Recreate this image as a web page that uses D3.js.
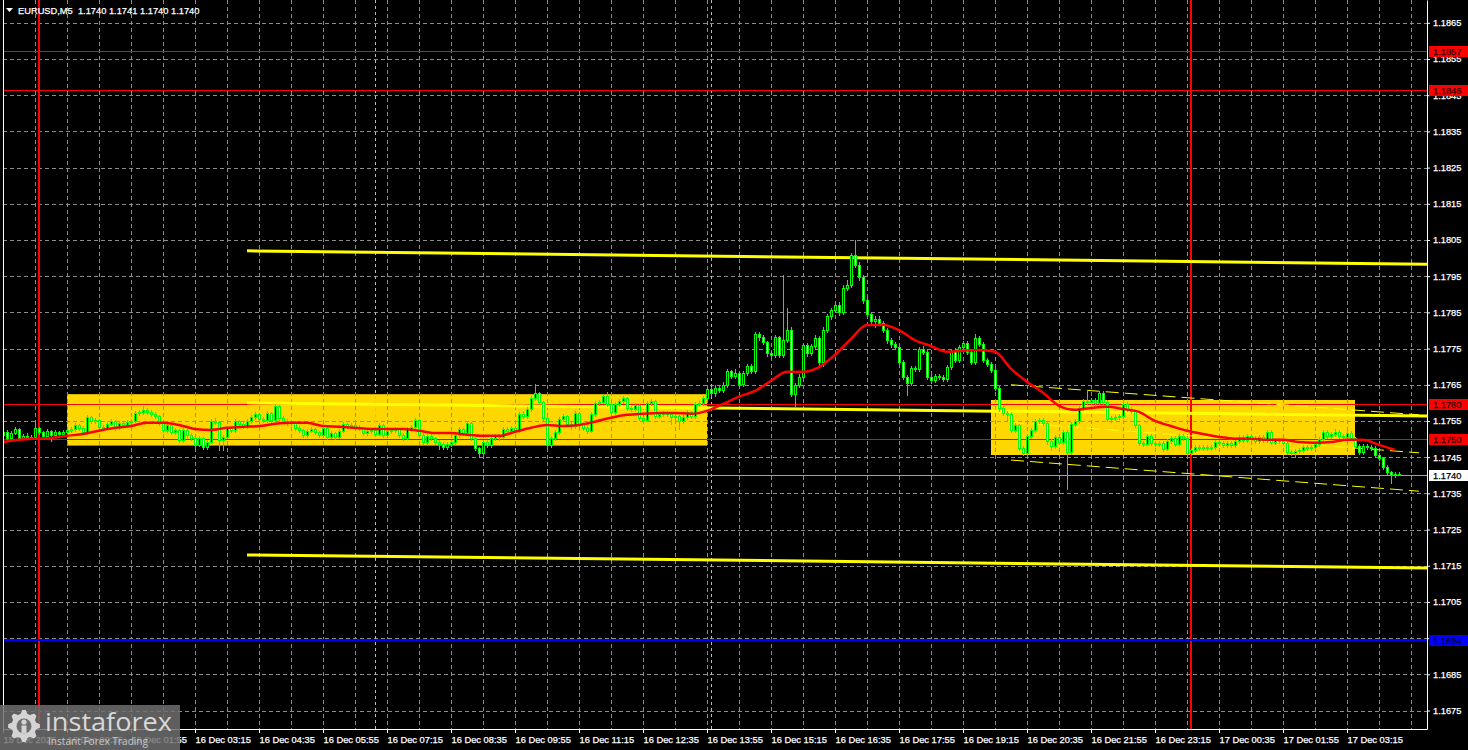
<!DOCTYPE html>
<html><head><meta charset="utf-8">
<script src="https://cdn.jsdelivr.net/npm/d3@7"></script>
<style>html,body{margin:0;padding:0;background:#000;overflow:hidden}text{font-family:"Liberation Sans",Arial,sans-serif}</style>
</head><body><svg id="chart" width="1468" height="750"></svg>
<script>
// ---------------- DATA ----------------
const symbolTitle = "EURUSD,M5";
const firstBarTime = "2025-12-15 23:15";
const barMinutes = 5;
const firstOpen = 1.17512;
const closes = [
1.17520,1.17503,1.17517,1.17528,1.17503,1.17509,1.17506,1.17506,1.17531,1.17520,
1.17509,1.17523,1.17512,1.17520,1.17514,1.17520,1.17525,1.17528,1.17539,1.17531,
1.17520,1.17561,1.17550,1.17553,1.17534,1.17531,1.17542,1.17550,1.17531,1.17545,
1.17539,1.17548,1.17550,1.17572,1.17575,1.17581,1.17575,1.17570,1.17564,1.17545,
1.17525,1.17539,1.17520,1.17525,1.17498,1.17525,1.17512,1.17503,1.17484,1.17503,
1.17478,1.17492,1.17550,1.17548,1.17498,1.17506,1.17531,1.17525,1.17550,1.17542,
1.17536,1.17550,1.17561,1.17570,1.17556,1.17553,1.17572,1.17553,1.17592,1.17559,
1.17550,1.17545,1.17548,1.17531,1.17525,1.17512,1.17523,1.17528,1.17520,1.17512,
1.17531,1.17506,1.17517,1.17506,1.17523,1.17542,1.17536,1.17539,1.17534,1.17531,
1.17517,1.17523,1.17525,1.17514,1.17539,1.17512,1.17523,1.17525,1.17528,1.17512,
1.17503,1.17528,1.17534,1.17553,1.17512,1.17492,1.17509,1.17503,1.17492,1.17487,
1.17478,1.17487,1.17492,1.17512,1.17528,1.17517,1.17545,1.17503,1.17476,1.17462,
1.17492,1.17484,1.17503,1.17509,1.17506,1.17528,1.17523,1.17531,1.17525,1.17570,
1.17564,1.17583,1.17614,1.17628,1.17603,1.17559,1.17484,1.17503,1.17520,1.17556,
1.17564,1.17542,1.17536,1.17572,1.17542,1.17531,1.17523,1.17570,1.17600,1.17603,
1.17619,1.17597,1.17575,1.17597,1.17606,1.17614,1.17586,1.17583,1.17594,1.17559,
1.17553,1.17600,1.17606,1.17564,1.17570,1.17572,1.17570,1.17561,1.17564,1.17550,
1.17561,1.17575,1.17564,1.17597,1.17600,1.17614,1.17639,1.17628,1.17641,1.17636,
1.17650,1.17688,1.17675,1.17683,1.17652,1.17683,1.17702,1.17688,1.17791,1.17782,
1.17768,1.17738,1.17733,1.17782,1.17733,1.17774,1.17802,1.17625,1.17650,1.17672,
1.17760,1.17738,1.17757,1.17780,1.17713,1.17802,1.17840,1.17857,1.17871,1.17851,
1.17918,1.17926,1.18009,1.17981,1.17948,1.17884,1.17846,1.17826,1.17832,1.17821,
1.17802,1.17774,1.17763,1.17755,1.17713,1.17672,1.17655,1.17697,1.17694,1.17749,
1.17741,1.17672,1.17664,1.17675,1.17672,1.17666,1.17699,1.17744,1.17719,1.17755,
1.17766,1.17741,1.17713,1.17780,1.17763,1.17719,1.17708,1.17691,1.17641,1.17586,
1.17572,1.17570,1.17525,1.17539,1.17476,1.17462,1.17509,1.17525,1.17550,1.17553,
1.17545,1.17495,1.17481,1.17506,1.17492,1.17520,1.17465,1.17542,1.17550,1.17586,
1.17606,1.17603,1.17608,1.17600,1.17628,1.17603,1.17556,1.17559,1.17561,1.17564,
1.17597,1.17583,1.17578,1.17539,1.17490,1.17487,1.17509,1.17490,1.17487,1.17490,
1.17473,1.17495,1.17503,1.17487,1.17509,1.17503,1.17462,1.17470,1.17478,1.17476,
1.17478,1.17476,1.17478,1.17492,1.17490,1.17484,1.17490,1.17484,1.17495,1.17506,
1.17498,1.17509,1.17503,1.17495,1.17506,1.17498,1.17520,1.17492,1.17498,1.17495,
1.17490,1.17465,1.17462,1.17467,1.17470,1.17478,1.17476,1.17478,1.17487,1.17501,
1.17520,1.17509,1.17514,1.17520,1.17509,1.17506,1.17517,1.17503,1.17481,1.17465,
1.17481,1.17478,1.17476,1.17456,1.17448,1.17423,1.17409,1.17400,1.17403,1.17400
];
const highs = [
1.17526,1.17524,1.17522,1.17534,1.17531,1.17514,1.17517,1.17512,1.17545,1.17534,
1.17523,1.17528,1.17526,1.17525,1.17523,1.17526,1.17531,1.17534,1.17545,1.17542,
1.17536,1.17567,1.17564,1.17559,1.17556,1.17539,1.17548,1.17556,1.17553,1.17550,
1.17550,1.17553,1.17556,1.17578,1.17581,1.17592,1.17586,1.17581,1.17575,1.17567,
1.17548,1.17545,1.17542,1.17531,1.17528,1.17531,1.17528,1.17517,1.17506,1.17509,
1.17506,1.17498,1.17556,1.17559,1.17550,1.17512,1.17536,1.17536,1.17556,1.17553,
1.17548,1.17556,1.17567,1.17575,1.17572,1.17561,1.17578,1.17575,1.17597,1.17595,
1.17564,1.17556,1.17553,1.17550,1.17536,1.17528,1.17528,1.17534,1.17531,1.17523,
1.17536,1.17534,1.17523,1.17520,1.17528,1.17548,1.17545,1.17545,1.17542,1.17539,
1.17534,1.17528,1.17531,1.17528,1.17545,1.17542,1.17528,1.17531,1.17534,1.17531,
1.17517,1.17534,1.17539,1.17559,1.17556,1.17517,1.17514,1.17514,1.17506,1.17498,
1.17492,1.17492,1.17498,1.17517,1.17534,1.17531,1.17550,1.17548,1.17506,1.17478,
1.17498,1.17498,1.17509,1.17514,1.17514,1.17534,1.17534,1.17536,1.17536,1.17575,
1.17578,1.17589,1.17619,1.17652,1.17630,1.17606,1.17564,1.17509,1.17525,1.17561,
1.17570,1.17567,1.17548,1.17578,1.17575,1.17548,1.17536,1.17575,1.17606,1.17608,
1.17625,1.17630,1.17600,1.17603,1.17611,1.17619,1.17617,1.17592,1.17600,1.17597,
1.17564,1.17606,1.17611,1.17608,1.17575,1.17578,1.17578,1.17575,1.17570,1.17567,
1.17567,1.17581,1.17578,1.17603,1.17606,1.17619,1.17645,1.17645,1.17650,1.17647,
1.17658,1.17694,1.17691,1.17694,1.17688,1.17688,1.17708,1.17708,1.17796,1.17796,
1.17788,1.17771,1.17744,1.17788,1.17785,1.17954,1.17862,1.17810,1.17655,1.17680,
1.17766,1.17766,1.17763,1.17788,1.17785,1.17810,1.17846,1.17862,1.17876,1.17879,
1.17926,1.17940,1.18015,1.18050,1.17990,1.17953,1.17890,1.17851,1.17840,1.17840,
1.17826,1.17807,1.17780,1.17768,1.17760,1.17719,1.17677,1.17702,1.17702,1.17755,
1.17757,1.17746,1.17677,1.17680,1.17680,1.17677,1.17705,1.17749,1.17752,1.17760,
1.17771,1.17771,1.17746,1.17791,1.17785,1.17768,1.17724,1.17713,1.17697,1.17647,
1.17592,1.17578,1.17575,1.17545,1.17542,1.17481,1.17514,1.17531,1.17556,1.17559,
1.17559,1.17548,1.17501,1.17512,1.17512,1.17525,1.17525,1.17548,1.17556,1.17592,
1.17611,1.17636,1.17614,1.17614,1.17633,1.17633,1.17608,1.17564,1.17567,1.17570,
1.17603,1.17603,1.17589,1.17581,1.17542,1.17495,1.17514,1.17514,1.17495,1.17495,
1.17495,1.17501,1.17509,1.17509,1.17514,1.17514,1.17506,1.17476,1.17484,1.17484,
1.17484,1.17484,1.17484,1.17498,1.17498,1.17495,1.17495,1.17495,1.17501,1.17512,
1.17512,1.17514,1.17514,1.17509,1.17512,1.17512,1.17525,1.17525,1.17503,1.17503,
1.17501,1.17495,1.17470,1.17473,1.17476,1.17484,1.17484,1.17484,1.17492,1.17506,
1.17525,1.17525,1.17520,1.17528,1.17525,1.17514,1.17523,1.17523,1.17506,1.17487,
1.17487,1.17487,1.17484,1.17481,1.17462,1.17451,1.17428,1.17412,1.17409,1.17410
];
const lows = [
1.17505,1.17498,1.17500,1.17514,1.17497,1.17500,1.17501,1.17500,1.17503,1.17514,
1.17504,1.17506,1.17495,1.17509,1.17509,1.17511,1.17517,1.17520,1.17523,1.17525,
1.17514,1.17517,1.17545,1.17545,1.17528,1.17525,1.17528,1.17539,1.17525,1.17528,
1.17534,1.17536,1.17542,1.17548,1.17567,1.17570,1.17570,1.17564,1.17559,1.17539,
1.17520,1.17520,1.17514,1.17514,1.17492,1.17492,1.17506,1.17498,1.17478,1.17481,
1.17473,1.17473,1.17490,1.17542,1.17470,1.17470,1.17503,1.17520,1.17520,1.17536,
1.17531,1.17531,1.17545,1.17556,1.17550,1.17548,1.17548,1.17548,1.17550,1.17553,
1.17545,1.17539,1.17539,1.17525,1.17520,1.17506,1.17506,1.17520,1.17514,1.17506,
1.17509,1.17501,1.17503,1.17501,1.17503,1.17520,1.17531,1.17531,1.17528,1.17525,
1.17512,1.17512,1.17517,1.17509,1.17512,1.17506,1.17509,1.17517,1.17520,1.17506,
1.17498,1.17501,1.17523,1.17531,1.17506,1.17487,1.17487,1.17498,1.17487,1.17473,
1.17473,1.17473,1.17481,1.17487,1.17506,1.17512,1.17512,1.17498,1.17470,1.17451,
1.17459,1.17478,1.17478,1.17498,1.17498,1.17503,1.17517,1.17520,1.17520,1.17520,
1.17559,1.17559,1.17578,1.17608,1.17597,1.17553,1.17476,1.17478,1.17498,1.17514,
1.17550,1.17536,1.17528,1.17531,1.17536,1.17525,1.17517,1.17520,1.17564,1.17595,
1.17600,1.17592,1.17570,1.17570,1.17592,1.17600,1.17581,1.17578,1.17578,1.17553,
1.17548,1.17550,1.17595,1.17559,1.17559,1.17564,1.17564,1.17542,1.17556,1.17528,
1.17545,1.17556,1.17559,1.17559,1.17592,1.17595,1.17608,1.17622,1.17619,1.17630,
1.17630,1.17645,1.17669,1.17669,1.17645,1.17647,1.17677,1.17683,1.17683,1.17774,
1.17763,1.17730,1.17724,1.17727,1.17727,1.17727,1.17768,1.17619,1.17589,1.17645,
1.17666,1.17730,1.17733,1.17752,1.17705,1.17702,1.17796,1.17832,1.17851,1.17843,
1.17846,1.17912,1.17920,1.17975,1.17940,1.17876,1.17840,1.17815,1.17810,1.17815,
1.17796,1.17766,1.17755,1.17749,1.17708,1.17666,1.17622,1.17650,1.17688,1.17688,
1.17735,1.17666,1.17655,1.17658,1.17666,1.17660,1.17660,1.17694,1.17713,1.17713,
1.17749,1.17735,1.17708,1.17708,1.17757,1.17713,1.17702,1.17686,1.17636,1.17578,
1.17567,1.17553,1.17520,1.17520,1.17470,1.17456,1.17459,1.17503,1.17520,1.17545,
1.17539,1.17487,1.17470,1.17476,1.17487,1.17487,1.17362,1.17459,1.17536,1.17545,
1.17581,1.17597,1.17597,1.17595,1.17595,1.17597,1.17550,1.17548,1.17553,1.17556,
1.17559,1.17578,1.17572,1.17534,1.17484,1.17481,1.17484,1.17484,1.17481,1.17481,
1.17467,1.17470,1.17490,1.17481,1.17484,1.17498,1.17456,1.17456,1.17465,1.17470,
1.17470,1.17470,1.17470,1.17473,1.17484,1.17478,1.17478,1.17478,1.17478,1.17490,
1.17492,1.17492,1.17498,1.17490,1.17490,1.17492,1.17492,1.17487,1.17487,1.17490,
1.17484,1.17459,1.17456,1.17451,1.17462,1.17465,1.17470,1.17470,1.17473,1.17481,
1.17495,1.17503,1.17503,1.17509,1.17503,1.17501,1.17501,1.17498,1.17476,1.17459,
1.17459,1.17473,1.17470,1.17451,1.17442,1.17417,1.17403,1.17379,1.17395,1.17400
];
// moving average (red), one reading every 4 bars
const maEveryBars = 4;
const maValues = [
1.17492,1.17498,1.17501,1.17503,1.17509,1.17514,1.17523,1.17531,1.17536,1.17545,
1.17545,1.17539,1.17528,1.17525,1.17531,1.17534,1.17536,1.17542,1.17545,1.17545,
1.17536,1.17534,1.17531,1.17528,1.17528,1.17528,1.17523,1.17517,1.17517,1.17512,
1.17509,1.17509,1.17520,1.17531,1.17539,1.17536,1.17539,1.17548,1.17559,1.17567,
1.17570,1.17572,1.17572,1.17570,1.17578,1.17597,1.17617,1.17633,1.17661,1.17686,
1.17686,1.17699,1.17733,1.17777,1.17815,1.17815,1.17801,1.17773,1.17757,1.17741,
1.17744,1.17746,1.17741,1.17694,1.17658,1.17628,1.17592,1.17581,1.17586,1.17589,
1.17583,1.17575,1.17550,1.17536,1.17523,1.17514,1.17506,1.17501,1.17501,1.17498,
1.17498,1.17492,1.17490,1.17492,1.17498,1.17498,1.17484,1.17470
];
// axes
const priceTicks = [1.1675,1.1685,1.1695,1.1705,1.1715,1.1725,1.1735,1.1745,1.1755,1.1765,
                    1.1775,1.1785,1.1795,1.1805,1.1815,1.1825,1.1835,1.1845,1.1855,1.1865];
const tickTimes = ["2025-12-15 23:15","2025-12-16 00:35","2025-12-16 01:55","2025-12-16 03:15","2025-12-16 04:35",
  "2025-12-16 05:55","2025-12-16 07:15","2025-12-16 08:35","2025-12-16 09:55","2025-12-16 11:15","2025-12-16 12:35",
  "2025-12-16 13:55","2025-12-16 15:15","2025-12-16 16:35","2025-12-16 17:55","2025-12-16 19:15","2025-12-16 20:35",
  "2025-12-16 21:55","2025-12-16 23:15","2025-12-17 00:35","2025-12-17 01:55","2025-12-17 03:15"];
const timeLabels = ["15 Dec 2025","16 Dec 00:35","16 Dec 01:55","16 Dec 03:15","16 Dec 04:35",
  "16 Dec 05:55","16 Dec 07:15","16 Dec 08:35","16 Dec 09:55","16 Dec 11:15","16 Dec 12:35",
  "16 Dec 13:55","16 Dec 15:15","16 Dec 16:35","16 Dec 17:55","16 Dec 19:15","16 Dec 20:35",
  "16 Dec 21:55","16 Dec 23:15","17 Dec 00:35","17 Dec 01:55","17 Dec 03:15"];
const viewStart = "2025-12-15 23:15", viewEnd = "2025-12-17 04:55";
const priceMin = 1.16699, priceMax = 1.18713;
// horizontal levels
const redLevels = [1.18571, 1.18464, 1.17597, 1.17499];
const blueLevel = 1.16944;
const bidPrice = 1.17400;
// vertical lines
const dayLines = ["2025-12-16 00:00","2025-12-17 00:00"];
const sessionLines = ["2025-12-16 07:00","2025-12-16 14:00"];
// yellow zones
const zoneStart = ["2025-12-16 00:35","2025-12-16 19:50"];
const zoneEnd = ["2025-12-16 13:55","2025-12-17 03:25"];
const zoneTop = [1.17624, 1.17608];
const zoneBottom = [1.17482, 1.17456];
// thick price channel
const channelTimes = ["2025-12-16 04:20","2025-12-17 04:55"];
const channelUpper = [1.18020, 1.17983];
const channelMiddle = [1.17600, 1.17564];
const channelLower = [1.17180, 1.17144];
// thin descending channel
const thinTimes = ["2025-12-16 20:15","2025-12-17 04:45"];
const thinUpper = [1.17650, 1.17567];
const thinMiddle = [1.17546, 1.17462];
const thinLower = [1.17442, 1.17356];

// ---------------- DRAW ----------------
const FONT = "'Liberation Sans', Arial, sans-serif";
const parse = d3.timeParse("%Y-%m-%d %H:%M");
const t0 = parse(firstBarTime);
const barTimes = closes.map((_, i) => d3.timeMinute.offset(t0, i * barMinutes));
const x = d3.scaleTime().domain([parse(viewStart), parse(viewEnd)]).range([3, 1427]);
const y = d3.scaleLinear().domain([priceMin, priceMax]).range([729, 0]);
const fmt = d3.format(".4f");

const svg = d3.select("#chart");
svg.append("rect").attr("width", 1468).attr("height", 750).attr("fill", "#000");
svg.append("defs").append("clipPath").attr("id", "plot")
  .append("rect").attr("x", 3).attr("y", 0).attr("width", 1424).attr("height", 729);
const g = svg.append("g").attr("clip-path", "url(#plot)");

// zones
g.append("g").selectAll("rect").data(zoneStart).join("rect")
  .attr("x", (d, k) => x(parse(d)))
  .attr("width", (d, k) => x(parse(zoneEnd[k])) - x(parse(d)))
  .attr("y", (d, k) => y(zoneTop[k]))
  .attr("height", (d, k) => y(zoneBottom[k]) - y(zoneTop[k]))
  .attr("fill", "#ffd700");

// grid
const gridTimes = d3.range(8, 356, 8).map(i => d3.timeMinute.offset(t0, i * barMinutes));
const grid = g.append("g").attr("stroke", "#8c8c8c").attr("stroke-width", 1)
  .attr("stroke-dasharray", "4 3").attr("shape-rendering", "crispEdges");
grid.selectAll("line.v").data(gridTimes).join("line").attr("class", "v")
  .attr("x1", d => Math.round(x(d)) + 0.5).attr("x2", d => Math.round(x(d)) + 0.5)
  .attr("y1", 0).attr("y2", 729);
grid.selectAll("line.h").data(priceTicks).join("line").attr("class", "h")
  .attr("x1", 3).attr("x2", 1427)
  .attr("y1", d => Math.round(y(d)) + 0.5).attr("y2", d => Math.round(y(d)) + 0.5);

// vertical lines
g.append("g").selectAll("line").data(sessionLines).join("line")
  .attr("x1", d => Math.round(x(parse(d))) + 0.5).attr("x2", d => Math.round(x(parse(d))) + 0.5)
  .attr("y1", 0).attr("y2", 729).attr("stroke", "#a8e020").attr("stroke-dasharray", "3 3")
  .attr("shape-rendering", "crispEdges");
g.append("g").selectAll("line").data(dayLines).join("line")
  .attr("x1", d => Math.round(x(parse(d)))).attr("x2", d => Math.round(x(parse(d))))
  .attr("y1", 0).attr("y2", 729).attr("stroke", "#ff0000").attr("stroke-width", 2)
  .attr("shape-rendering", "crispEdges");

// horizontal levels
g.append("g").selectAll("line").data(redLevels).join("line")
  .attr("x1", 3).attr("x2", 1427)
  .attr("y1", d => Math.round(y(d)) + 0.5).attr("y2", d => Math.round(y(d)) + 0.5)
  .attr("stroke", "#ff0000").attr("stroke-width", 1).attr("shape-rendering", "crispEdges");
g.append("line").attr("x1", 3).attr("x2", 1427)
  .attr("y1", Math.round(y(blueLevel))).attr("y2", Math.round(y(blueLevel)))
  .attr("stroke", "#0000ff").attr("stroke-width", 2).attr("shape-rendering", "crispEdges");
g.append("line").attr("x1", 3).attr("x2", 1427)
  .attr("y1", Math.round(y(bidPrice)) + 0.5).attr("y2", Math.round(y(bidPrice)) + 0.5)
  .attr("stroke", "#a0a0a0").attr("shape-rendering", "crispEdges");

// channels
const chT = channelTimes.map(parse);
const lineGen = (ts) => d3.line().x((d, k) => x(ts[k])).y(d => y(d));
[channelUpper, channelMiddle, channelLower].forEach(arr => {
  g.append("path").attr("d", lineGen(chT)(arr)).attr("fill", "none")
    .attr("stroke", "#ffff00").attr("stroke-width", 3);
});
const thT = thinTimes.map(parse);
[thinUpper, thinMiddle, thinLower].forEach(arr => {
  g.append("path").attr("d", lineGen(thT)(arr)).attr("fill", "none")
    .attr("stroke", "#ffff00").attr("stroke-width", 1).attr("stroke-dasharray", "13 6");
});

// candles
const bars = closes.map((c, i) => ({
  t: barTimes[i], o: i === 0 ? firstOpen : closes[i - 1], h: highs[i], l: lows[i], c: c
}));
const cg = g.append("g").attr("shape-rendering", "crispEdges");
const cand = cg.selectAll("g").data(bars).join("g");
cand.append("rect").attr("x", d => Math.round(x(d.t)))
  .attr("y", d => Math.round(y(d.h)))
  .attr("width", 1).attr("height", d => Math.max(1, Math.round(y(d.l)) - Math.round(y(d.h)) + 1))
  .attr("fill", "#00ff00");
cand.append("rect").attr("x", d => Math.round(x(d.t)) - 1)
  .attr("y", d => Math.min(Math.round(y(d.o)), Math.round(y(d.c))))
  .attr("width", 3)
  .attr("height", d => Math.abs(Math.round(y(d.o)) - Math.round(y(d.c))) + 1)
  .attr("fill", "#00ff00");
cand.filter(d => Math.abs(Math.round(y(d.o)) - Math.round(y(d.c))) >= 2).append("rect")
  .attr("x", d => Math.round(x(d.t)))
  .attr("y", d => Math.min(Math.round(y(d.o)), Math.round(y(d.c))) + 1)
  .attr("width", 1)
  .attr("height", d => Math.abs(Math.round(y(d.o)) - Math.round(y(d.c))) - 1)
  .attr("fill", d => d.c > d.o ? "#000000" : "#ffffff");

// moving average
g.append("path").datum(maValues)
  .attr("d", d3.line().x((d, k) => x(barTimes[k * maEveryBars])).y(d => y(d)).curve(d3.curveMonotoneX))
  .attr("fill", "none").attr("stroke", "#ff0000").attr("stroke-width", 2.5);

// axes
const styleText = sel => sel.attr("font-size", 9.3).style("font-family", FONT)
  .attr("stroke-width", 0.25).attr("paint-order", "stroke");
const xAxis = d3.axisBottom(x).tickValues(tickTimes.map(parse))
  .tickFormat((d, k) => timeLabels[k]).tickSizeInner(4).tickSizeOuter(0).tickPadding(3);
const xa = svg.append("g").attr("transform", "translate(0,729)").call(xAxis);
xa.select(".domain").attr("stroke", "#fff");
xa.selectAll(".tick line").attr("stroke", "#fff");
xa.selectAll(".tick text").attr("fill", "#fff").attr("stroke", "#fff")
  .attr("text-anchor", "start").attr("x", 0).call(styleText);

const yAxis = d3.axisRight(y).tickValues(priceTicks).tickFormat(fmt)
  .tickSizeInner(3).tickSizeOuter(0).tickPadding(3);
const ya = svg.append("g").attr("transform", "translate(1427,0)").call(yAxis);
ya.select(".domain").attr("stroke", "#fff");
ya.selectAll(".tick line").attr("stroke", "#fff");
ya.selectAll(".tick text").attr("fill", "#fff").attr("stroke", "#fff").call(styleText);
// left frame line
svg.append("line").attr("x1", 3.5).attr("x2", 3.5).attr("y1", 0).attr("y2", 729)
  .attr("stroke", "#fff").attr("shape-rendering", "crispEdges");

// price tags
const tags = redLevels.map(v => ({ v, bg: "#ff0000", fg: "#2a0000" }))
  .concat([{ v: blueLevel, bg: "#0000ff", fg: "#000033" }, { v: bidPrice, bg: "#ffffff", fg: "#000000" }]);
const tg = svg.append("g").selectAll("g").data(tags).join("g");
tg.append("rect").attr("x", 1429).attr("y", d => Math.round(y(d.v)) - 5)
  .attr("width", 39).attr("height", 11).attr("fill", d => d.bg);
tg.append("text").attr("x", 1433).attr("y", d => Math.round(y(d.v)) + 4)
  .attr("fill", d => d.fg).attr("stroke", d => d.fg).call(styleText).text(d => fmt(d.v));

// title
const last = bars[bars.length - 1];
svg.append("path").attr("d", "M6,8L13,8L9.5,12Z").attr("fill", "#fff");
svg.append("text").attr("x", 18).attr("y", 14).attr("fill", "#fff").attr("stroke", "#fff")
  .attr("xml:space", "preserve").call(styleText)
  .text(symbolTitle + "  " + [last.o, last.h, last.l, last.c].map(fmt).join(" "));

// watermark
const wm = svg.append("g");
wm.append("rect").attr("x", 0).attr("y", 705).attr("width", 180).attr("height", 45)
  .attr("fill", "#6e6e6e").attr("opacity", 0.85);
const gear = [];
for (let k = 0; k < 16; k++) {
  const a = k * Math.PI / 8, r = (k % 2 === 0) ? 16 : 12.5;
  const a1 = a - Math.PI / 16 * 0.55, a2 = a + Math.PI / 16 * 0.55;
  gear.push([24 + r * Math.cos(a1), 726 + r * Math.sin(a1)], [24 + r * Math.cos(a2), 726 + r * Math.sin(a2)]);
}
wm.append("path").attr("d", d3.line()(gear) + "Z").attr("fill", "#d4d4d4");
wm.append("circle").attr("cx", 24).attr("cy", 726).attr("r", 7.5).attr("fill", "#6e6e6e");
wm.append("circle").attr("cx", 24).attr("cy", 722).attr("r", 2.6).attr("fill", "#d4d4d4");
wm.append("rect").attr("x", 21.5).attr("y", 725.5).attr("width", 5).attr("height", 8).attr("fill", "#d4d4d4");
wm.append("text").attr("x", 45).attr("y", 731).attr("font-size", 26).attr("fill", "#d8d8d8")
  .attr("textLength", 127).attr("lengthAdjust", "spacingAndGlyphs")
  .style("font-family", "'Open Sans', sans-serif").text("instaforex");
wm.append("text").attr("x", 48).attr("y", 745).attr("font-size", 11).attr("fill", "#c8c8c8")
  .attr("textLength", 100).attr("lengthAdjust", "spacingAndGlyphs")
  .style("font-family", "'Open Sans', sans-serif").text("Instant Forex Trading");
</script>
</body></html>
